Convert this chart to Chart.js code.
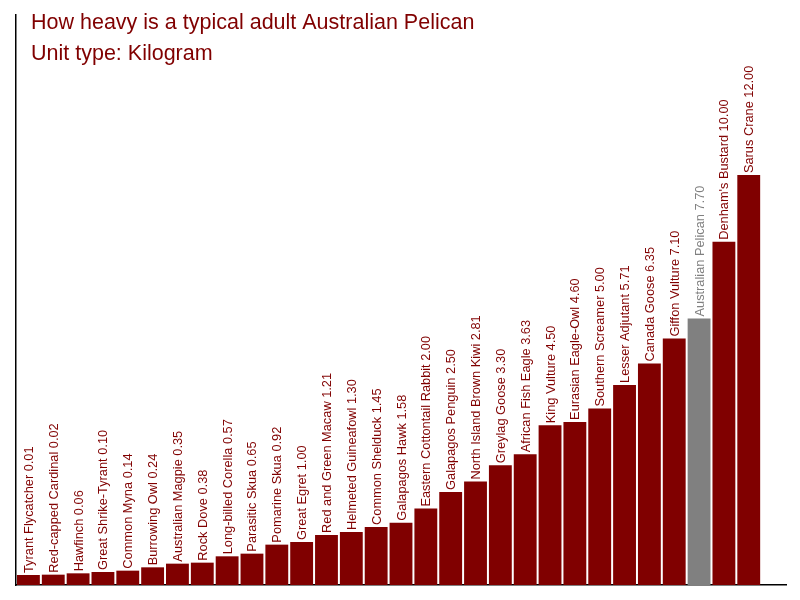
<!DOCTYPE html>
<html>
<head>
<meta charset="utf-8">
<script src="https://cdn.jsdelivr.net/npm/chart.js@4/dist/chart.umd.min.js"></script>
<style>
    html, body { margin: 0; padding: 0; background: #fff; }
    #wrap { width: 800px; height: 600px; }
</style>
</head>
<body>
<div id="wrap"><canvas id="birdChart" width="800" height="600"></canvas></div>
<script>
const birds = [
    'Tyrant Flycatcher', 'Red-capped Cardinal', 'Hawfinch', 'Great Shrike-Tyrant',
    'Common Myna', 'Burrowing Owl', 'Australian Magpie', 'Rock Dove',
    'Long-billed Corella', 'Parasitic Skua', 'Pomarine Skua', 'Great Egret',
    'Red and Green Macaw', 'Helmeted Guineafowl', 'Common Shelduck', 'Galapagos Hawk',
    'Eastern Cottontail Rabbit', 'Galapagos Penguin', 'North Island Brown Kiwi', 'Greylag Goose',
    'African Fish Eagle', 'King Vulture', 'Eurasian Eagle-Owl', 'Southern Screamer',
    'Lesser Adjutant', 'Canada Goose', 'Giffon Vulture', 'Australian Pelican',
    "Denham's Bustard", 'Sarus Crane'
];
const weights = [
    0.01, 0.02, 0.06, 0.10, 0.14, 0.24, 0.35, 0.38,
    0.57, 0.65, 0.92, 1.00, 1.21, 1.30, 1.45, 1.58,
    2.00, 2.50, 2.81, 3.30, 3.63, 4.50, 4.60, 5.00,
    5.71, 6.35, 7.10, 7.70, 10.00, 12.00
];
const highlight = 'Australian Pelican';
const titleLines = ['How heavy is a typical adult Australian Pelican', 'Unit type: Kilogram'];

const maroon = '#800000';
const grey = '#808080';
const colors = birds.map(b => b === highlight ? grey : maroon);
const yMin = -0.29;
const yMax = 16.8;

// labels above each bar, written bottom-to-top
const barLabels = {
    id: 'barLabels',
    afterDatasetsDraw(chart) {
        const c = chart.ctx;
        const meta = chart.getDatasetMeta(0);
        c.save();
        c.font = '12.8px "Liberation Sans", Arial, sans-serif';
        c.textAlign = 'left';
        c.textBaseline = 'middle';
        meta.data.forEach((bar, i) => {
            if (i >= birds.length) return;
            c.save();
            c.translate(bar.x + 1, bar.y - 2);
            c.rotate(-Math.PI / 2);
            c.fillStyle = colors[i];
            c.fillText(birds[i] + ' ' + weights[i].toFixed(2), 0, 0);
            c.restore();
        });
        c.restore();
    }
};

const titles = {
    id: 'titles',
    afterDraw(chart) {
        const c = chart.ctx;
        c.save();
        c.font = '21.5px "Liberation Sans", Arial, sans-serif';
        c.fillStyle = maroon;
        c.textAlign = 'left';
        c.textBaseline = 'alphabetic';
        c.fillText(titleLines[0], 31, 29);
        c.fillText(titleLines[1], 31, 60);
        c.restore();
    }
};

new Chart(document.getElementById('birdChart'), {
    type: 'bar',
    data: {
        labels: [...birds, ''],
        datasets: [{
            data: weights,
            base: yMin,
            backgroundColor: colors,
            borderWidth: 0,
            barPercentage: 0.92,
            categoryPercentage: 1.0
        }]
    },
    options: {
        responsive: false,
        animation: false,
        layout: { padding: { left: 16, top: 15, right: 14, bottom: 15 } },
        plugins: {
            legend: { display: false },
            title: { display: false },
            tooltip: { enabled: false }
        },
        scales: {
            x: {
                ticks: { display: false },
                grid: { display: false, drawTicks: false },
                border: { display: true, color: '#000', width: 1.5 }
            },
            y: {
                min: yMin,
                max: yMax,
                ticks: { display: false },
                grid: { display: false, drawTicks: false },
                border: { display: true, color: '#000', width: 1.5 }
            }
        }
    },
    plugins: [barLabels, titles]
});
</script>
</body>
</html>
